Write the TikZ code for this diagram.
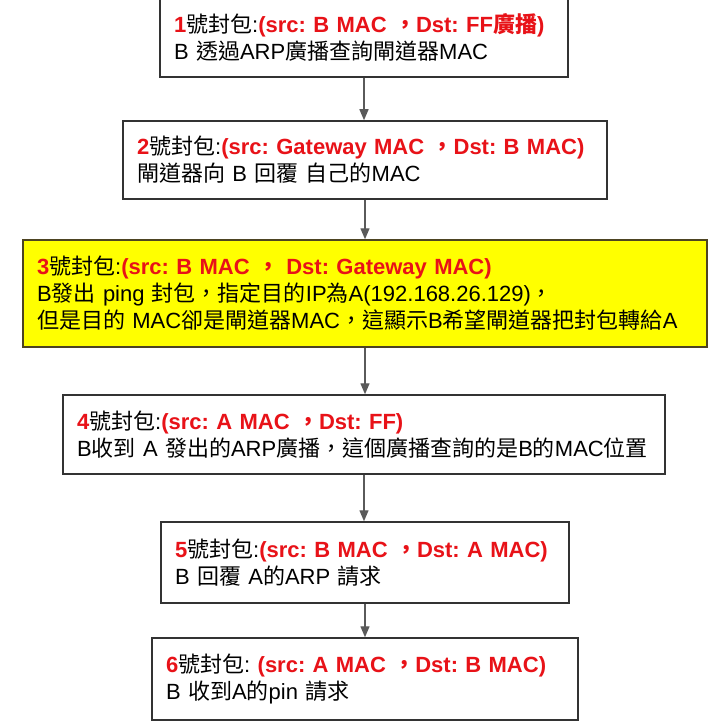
\documentclass[tikz,border=0pt]{standalone}
\usepackage{fontspec}
\setmainfont{Liberation Sans}
\newfontfamily\cjkfont{Noto Sans CJK TC}
\usetikzlibrary{arrows.meta}

\definecolor{pktred}{RGB}{232,18,24}
\definecolor{edgegray}{RGB}{51,51,51}
\definecolor{flowgray}{RGB}{90,90,90}
\definecolor{hiyellow}{RGB}{255,255,0}

\newcommand{\zh}[1]{{\cjkfont #1}}
\newcommand{\hd}[1]{\textcolor{pktred}{\bfseries #1}}

\begin{document}
\begin{tikzpicture}[x=1pt, y=-1pt,
    % Define the style for the packet boxes
    pkt/.style={
        draw=edgegray, line width=1.5pt, fill=white,
        align=left, inner xsep=14pt, inner ysep=0pt,
        font=\fontsize{22}{27}\selectfont\frenchspacing
    },
    % Define the style for the arrows between boxes
    flow/.style={
        draw=flowgray, line width=1.4pt,
        -{Triangle[length=11pt, width=9pt]}
    }
]

\useasboundingbox (0,0) rectangle (721,727);

% Draw the packet boxes
\node[pkt, text width=380pt, minimum height=80pt] (p1) at (364,37)
    {\hd{1}\zh{號封包}:\hd{(src: B MAC \zh{，}Dst: FF\zh{廣播})}\\
     B \zh{透過}ARP\zh{廣播查詢閘道器}MAC};
\node[pkt, text width=456pt, minimum height=78pt] (p2) at (365,160)
    {\hd{2}\zh{號封包}:\hd{(src: Gateway MAC \zh{，}Dst: B MAC)}\\
     \zh{閘道器向} B \zh{回覆} \zh{自己的}MAC};
\node[pkt, fill=hiyellow, draw={rgb,255:red,77;green,68;blue,34},
      text width=656pt, minimum height=107pt] (p3) at (365,293.5)
    {\hd{3}\zh{號封包}:\hd{(src: B MAC \zh{，} Dst: Gateway MAC)}\\
     B\zh{發出} ping \zh{封包，指定目的}IP\zh{為}A(192.168.26.129)\zh{，}\\
     \zh{但是目的} MAC\zh{卻是閘道器}MAC\zh{，這顯示}B\zh{希望閘道器把封包轉給}A};
\node[pkt, text width=574pt, minimum height=79pt] (p4) at (364,434.5)
    {\hd{4}\zh{號封包}:\hd{(src: A MAC \zh{，}Dst: FF)}\\
     B\zh{收到} A \zh{發出的}ARP\zh{廣播，這個廣播查詢的是}B\zh{的}MAC\zh{位置}};
\node[pkt, text width=380pt, minimum height=81pt] (p5) at (365,562.5)
    {\hd{5}\zh{號封包}:\hd{(src: B MAC \zh{，}Dst: A MAC)}\\
     B \zh{回覆} A\zh{的}ARP \zh{請求}};
\node[pkt, text width=398pt, minimum height=82pt] (p6) at (365,679)
    {\hd{6}\zh{號封包}: \hd{(src: A MAC \zh{，}Dst: B MAC)}\\
     B \zh{收到}A\zh{的}pin \zh{請求}};

% Draw the arrows
\draw[flow] (p1.south) -- (p1.south |- p2.north);
\draw[flow] (p2.south) -- (p2.south |- p3.north);
\draw[flow] (p3.south) -- (p3.south |- p4.north);
\draw[flow] (p4.south) -- (p4.south |- p5.north);
\draw[flow] (p5.south) -- (p5.south |- p6.north);

\end{tikzpicture}
\end{document}
